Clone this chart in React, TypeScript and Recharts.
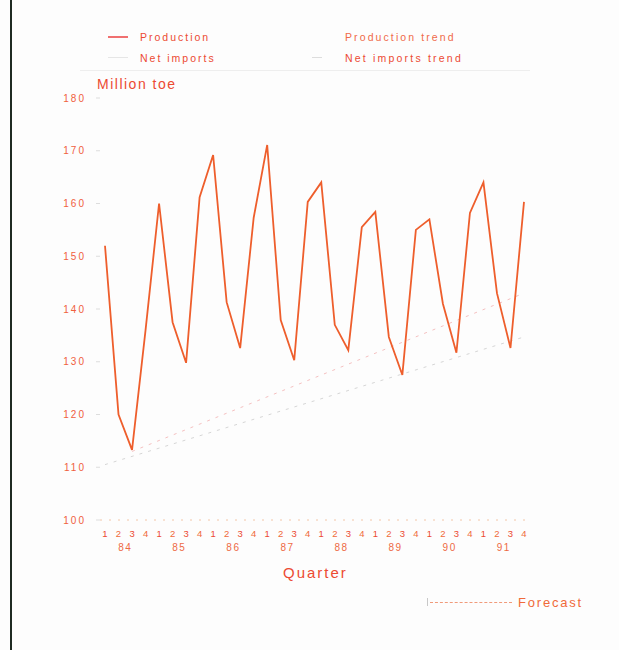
import React from 'react';
import { LineChart, Line, XAxis, YAxis, ReferenceLine } from 'recharts';

const years = ['84', '85', '86', '87', '88', '89', '90', '91'];
const quarters = ['1', '2', '3', '4'];
const production = [
  152, 120, 113.3, 136,
  160, 137.5, 129.8, 161.2,
  169.2, 141.3, 132.6, 157.3,
  171.1, 137.9, 130.3, 160.3,
  164, 137, 132.2, 155.5,
  158.4, 134.7, 127.5, 155,
  157, 141, 131.7, 158.2,
  164, 143, 132.6, 160.3,
];
// trend lines: end points only (straight lines joined across gaps)
const productionTrend: (number | null)[] = [110.5, ...Array(30).fill(null), 134.7];
const importsTrend: (number | null)[] = [null, null, 113, ...Array(28).fill(null), 143];
const yTicks = [100, 110, 120, 130, 140, 150, 160, 170, 180];

const data = production.map((p, i) => ({
  id: `${years[Math.floor(i / 4)]}-${quarters[i % 4]}`,
  production: p,
  prodTrend: productionTrend[i],
  impTrend: importsTrend[i],
}));

const RED = '#ec4a32';
const FONT = '"Liberation Sans", Arial, sans-serif';

const QuarterTick = (props: any) => {
  const { x, y, index } = props;
  const i = props.payload?.index ?? index;
  const q = quarters[i % 4];
  return (
    <g>
      <text x={x} y={y + 9} textAnchor="middle" fontSize={9.5} fill={i % 2 ? '#f06a3a' : RED} fontFamily={FONT}>
        {q}
      </text>
      {i % 4 === 1 && (
        <text x={x + 6.75} y={y + 23} textAnchor="middle" fontSize={10} letterSpacing={1.5} fill="#ee6a44" fontFamily={FONT}>
          {years[Math.floor(i / 4)]}
        </text>
      )}
    </g>
  );
};

const txt: React.CSSProperties = {
  position: 'absolute',
  fontFamily: FONT,
  color: RED,
  whiteSpace: 'nowrap',
  lineHeight: 1,
};

export default function App() {
  return (
    <div style={{ position: 'absolute', left: 0, top: 0, width: 619, height: 650, background: '#fdfdfd', overflow: 'hidden' }}>
      <div style={{ position: 'absolute', left: 10, top: 0, width: 2, height: 650, background: '#1f2a22' }} />
      {/* legend */}
      <div style={{ position: 'absolute', left: 108, top: 36, width: 20, height: 1.5, background: '#f07070' }} />
      <div style={{ ...txt, left: 140, top: 32, fontSize: 10.5, letterSpacing: 2 }}>Production</div>
      <div style={{ position: 'absolute', left: 108, top: 57, width: 20, height: 1, background: '#e6e6e6' }} />
      <div style={{ ...txt, left: 140, top: 53, fontSize: 10.5, letterSpacing: 2 }}>Net imports</div>
      <div style={{ ...txt, left: 345, top: 32, fontSize: 10.5, letterSpacing: 2.1, color: '#f06a4a' }}>Production trend</div>
      <div style={{ position: 'absolute', left: 312, top: 57, width: 10, height: 1, background: '#dddddd' }} />
      <div style={{ ...txt, left: 345, top: 53, fontSize: 10.5, letterSpacing: 2.2 }}>Net imports trend</div>
      <div style={{ position: 'absolute', left: 80, top: 70, width: 450, height: 1, background: '#eeeeee' }} />
      <div style={{ ...txt, left: 97, top: 77, fontSize: 14, letterSpacing: 1.5 }}>Million toe</div>
      <div style={{ ...txt, left: 283, top: 565, fontSize: 15, letterSpacing: 2 }}>Quarter</div>
      {/* forecast key */}
      <div style={{ position: 'absolute', left: 427, top: 598, width: 1, height: 8, background: '#c8c8c8' }} />
      <div style={{ position: 'absolute', left: 430, top: 602, width: 82, height: 0, borderTop: '1px dashed #f09a7a' }} />
      <div style={{ ...txt, left: 518, top: 596, fontSize: 13, letterSpacing: 1.8, color: '#f06a3a' }}>Forecast</div>
      <div style={{ position: 'absolute', left: 0, top: 0 }}>
        <LineChart width={619} height={650} data={data} margin={{ top: 98, right: 0, bottom: 90, left: 0 }}>
          <XAxis
            dataKey="id"
            height={40}
            interval={0}
            axisLine={false}
            tickLine={false}
            padding={{ left: 5, right: 8 }}
            tick={<QuarterTick />}
          />
          <YAxis
            yAxisId="left"
            width={100}
            domain={[100, 180]}
            ticks={yTicks}
            axisLine={false}
            tickSize={4}
            tickMargin={10}
            tickLine={{ stroke: '#dddddd' }}
            tick={{ fill: '#f0603e', fontSize: 10, fontFamily: FONT, letterSpacing: 2 }}
          />
          <YAxis
            yAxisId="right"
            orientation="right"
            width={87}
            domain={[100, 180]}
            ticks={yTicks}
            axisLine={false}
            tickSize={4}
            tickMargin={9}
            tickLine={{ stroke: '#dddddd' }}
            tick={{ fill: '#f0603e', fontSize: 10, fontFamily: FONT, letterSpacing: 2, textAnchor: 'start' }}
          />
          <ReferenceLine yAxisId="left" y={100} stroke="#f2c6a8" strokeDasharray="2 7" />
          <Line
            yAxisId="left"
            dataKey="prodTrend"
            stroke="#d6d6d6"
            strokeWidth={1}
            strokeDasharray="3 6"
            dot={false}
            connectNulls
            isAnimationActive={false}
          />
          <Line
            yAxisId="left"
            dataKey="impTrend"
            stroke="#f5c0c0"
            strokeWidth={1}
            strokeDasharray="3 6"
            dot={false}
            connectNulls
            isAnimationActive={false}
          />
          <Line
            yAxisId="left"
            dataKey="production"
            stroke="#ee5e2c"
            strokeWidth={1.8}
            dot={false}
            isAnimationActive={false}
          />
        </LineChart>
      </div>
    </div>
  );
}
